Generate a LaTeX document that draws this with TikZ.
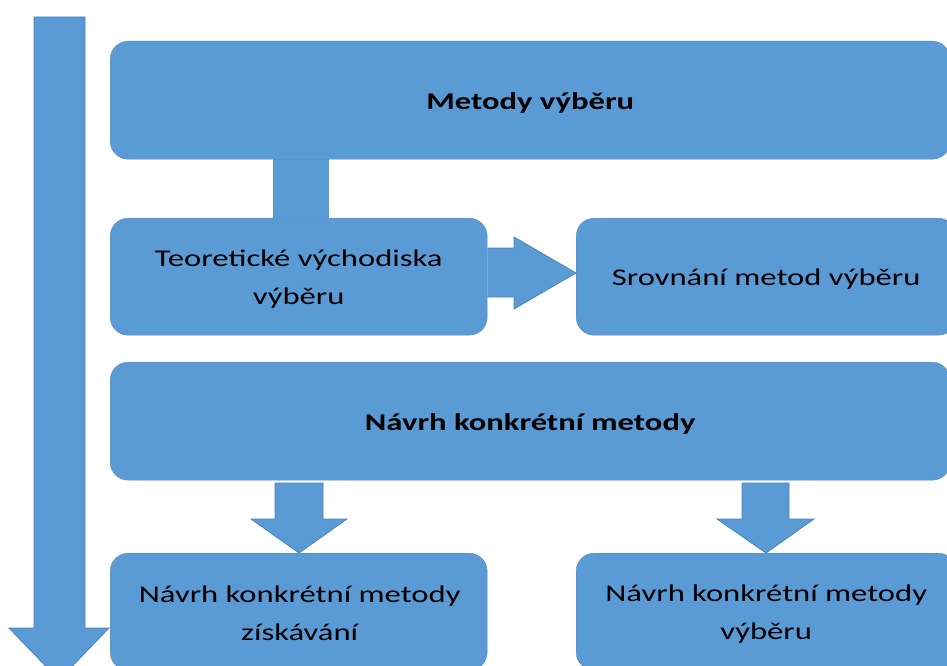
\documentclass[tikz,border=0pt]{standalone}
\usepackage{fontspec}
\setmainfont{Carlito}[FakeStretch=1.36]
\definecolor{boxblue}{HTML}{5B9BD5}
\definecolor{edgeblue}{HTML}{4A84BC}
\begin{document}
\begin{tikzpicture}[x=1pt,y=-1pt,
  box/.style={fill=boxblue, draw=boxblue!90!black, line width=0.4pt, rounded corners=18pt, anchor=north west, inner sep=0pt},
  boxtext/.style={inner sep=0pt, align=center, font=\fontsize{24}{38}\selectfont},
  boldtext/.style={boxtext, font=\fontsize{24}{38}\selectfont\bfseries},
  blockarrow/.style={fill=boxblue, draw=edgeblue, line width=0.8pt, line join=miter}]
\useasboundingbox (0,0) rectangle (947,666);
\clip (0,0) rectangle (947,666);
% left long arrow
\draw[blockarrow] (34,17) -- (85,17) -- (85,628) -- (109,628) -- (59,680) -- (9,628) -- (34,628) -- cycle;
% stem between top box and theory box
\fill[boxblue] (273,150) rectangle (329,228);
% boxes
\node[box, minimum width=840pt, minimum height=118pt] (top) at (110,41) {};
\node[box, minimum width=377pt, minimum height=117pt] (theory) at (110,218) {};
\node[box, minimum width=380pt, minimum height=117pt] (compare) at (576,218) {};
\node[box, minimum width=840pt, minimum height=118pt] (design) at (110,362) {};
\node[box, minimum width=377pt, minimum height=117pt] (acq) at (110,553) {};
\node[box, minimum width=380pt, minimum height=117pt] (sel) at (576,553) {};
% texts
\node[boldtext] (topt) at ([yshift=-3pt]top.center) {Metody výběru};
\node[boxtext] (theoryt) at ([yshift=-2pt]theory.center) {Teoretické východiska\\výběru};
\node[boxtext] (comparet) at ([yshift=-2pt]compare.center) {Srovnání metod výběru};
\node[boldtext] (designt) at ([yshift=-3pt]design.center) {Návrh konkrétní metody};
\node[boxtext] (acqt) at ([xshift=1pt,yshift=-2pt]acq.center) {Návrh konkrétní metody\\získávání};
\node[boxtext] (selt) at ([yshift=-2pt]sel.center) {Návrh konkrétní metody\\výběru};
% right arrow theory -> compare
\draw[blockarrow] (theory.east |- 0,248) -- (514,248) -- (514,237) -- (compare.west |- 0,273) -- (514,309) -- (514,297) -- (theory.east |- 0,297);
% down arrows
\draw[blockarrow] (275,483) -- (323,483) -- (323,519) -- (347,519) -- (acq.north -| 299,0) -- (251,519) -- (275,519) -- cycle;
\draw[blockarrow] (742,483) -- (789,483) -- (789,519) -- (814,519) -- (sel.north -| 766,0) -- (717,519) -- (742,519) -- cycle;
\end{tikzpicture}
\end{document}
